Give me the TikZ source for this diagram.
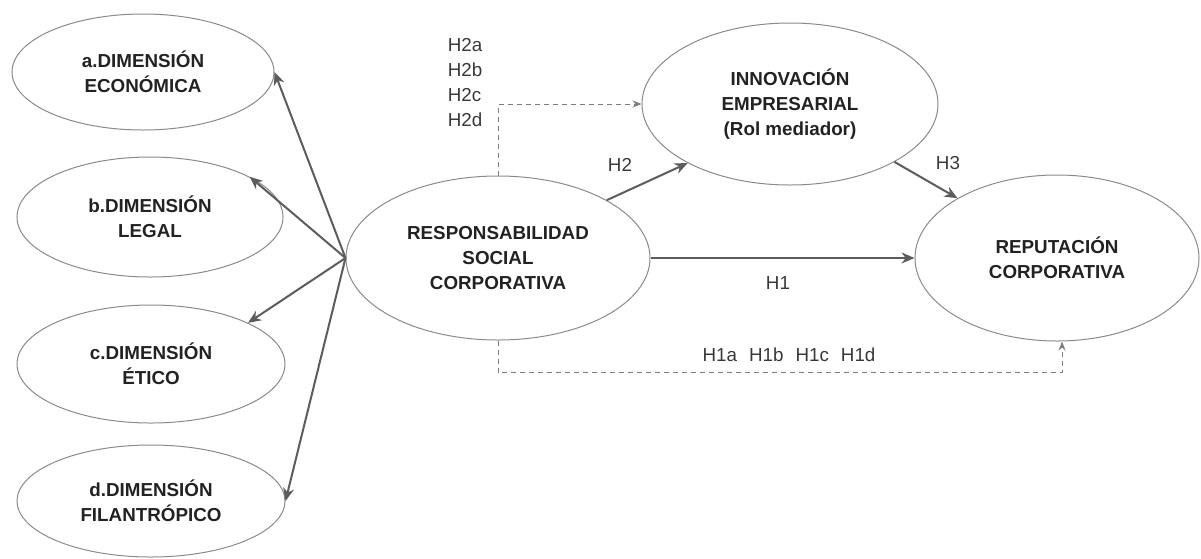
\documentclass[tikz,border=0pt]{standalone}
\usepackage{fontspec}
\setmainfont{Liberation Sans}
\usetikzlibrary{shapes.geometric,arrows.meta}
\definecolor{edgegray}{HTML}{8A8A8A}
\definecolor{linegray}{HTML}{5C5C5C}
\definecolor{textgray}{HTML}{222222}
\tikzset{
  constructo/.style={ellipse,draw=edgegray,line width=1pt,inner sep=0pt,align=center,
    text=textgray,font=\fontsize{18.8}{25}\selectfont\bfseries},
  hipo/.style={text=textgray!90,font=\fontsize{18.8}{25}\selectfont,inner sep=0pt},
  flecha/.style={draw=linegray,line width=2pt,-{Stealth[length=13pt,width=11pt]}},
  punteada/.style={draw=linegray!80,line width=1pt,dashed,dash pattern=on 5pt off 4pt,
    -{Stealth[length=9pt,width=7pt]}}
}
\begin{document}
\begin{tikzpicture}[x=1pt,y=-1pt]
\useasboundingbox (0,0) rectangle (1201,558);
%% dimensiones
\node[constructo,minimum width=262pt,minimum height=116pt] (dima) at (143,72) {a.DIMENSIÓN\\ECONÓMICA};
\node[constructo,minimum width=266pt,minimum height=120pt] (dimb) at (150,217) {b.DIMENSIÓN\\LEGAL};
\node[constructo,minimum width=268pt,minimum height=118pt] (dimc) at (151,364) {c.DIMENSIÓN\\ÉTICO};
\node[constructo,minimum width=268pt,minimum height=112pt] (dimd) at (151,501) {d.DIMENSIÓN\\FILANTRÓPICO};
%% constructos centrales
\node[constructo,minimum width=304pt,minimum height=164pt] (rsc) at (498,258) {RESPONSABILIDAD\\SOCIAL\\CORPORATIVA};
\node[constructo,minimum width=296pt,minimum height=162pt] (inno) at (790,104) {INNOVACIÓN\\EMPRESARIAL\\(Rol mediador)};
\node[constructo,minimum width=284pt,minimum height=166pt] (rep) at (1057,258) {REPUTACIÓN\\CORPORATIVA};
%% flechas a las dimensiones
\draw[flecha] (rsc.west) -- (dima.east);
\draw[flecha] (rsc.west) -- (dimb.22);
\draw[flecha] (rsc.west) -- (dimc.23);
\draw[flecha] (rsc.west) -- (dimd.east);
%% hipotesis
\draw[flecha] (rsc.28) -- (inno.210);
\draw[flecha] (inno.-29) -- (rep.149);
\draw[flecha] (rsc.east) -- (rep.west);
\draw[punteada] (rsc.north) |- (inno.west);
\draw[punteada] (rsc.south) -- ++(0,32) -| ([xshift=5pt]rep.south);
%% etiquetas
\node[hipo,align=left] (hdos) at (465,83) {H2a\\H2b\\H2c\\H2d};
\node[hipo] (hdosb) at (620,165) {H2};
\node[hipo] (htres) at (948,163) {H3};
\node[hipo] (huno) at (778,283) {H1};
\node[hipo] (hunob) at (789,355) {H1a\hspace{12pt}H1b\hspace{12pt}H1c\hspace{12pt}H1d};
\end{tikzpicture}
\end{document}
